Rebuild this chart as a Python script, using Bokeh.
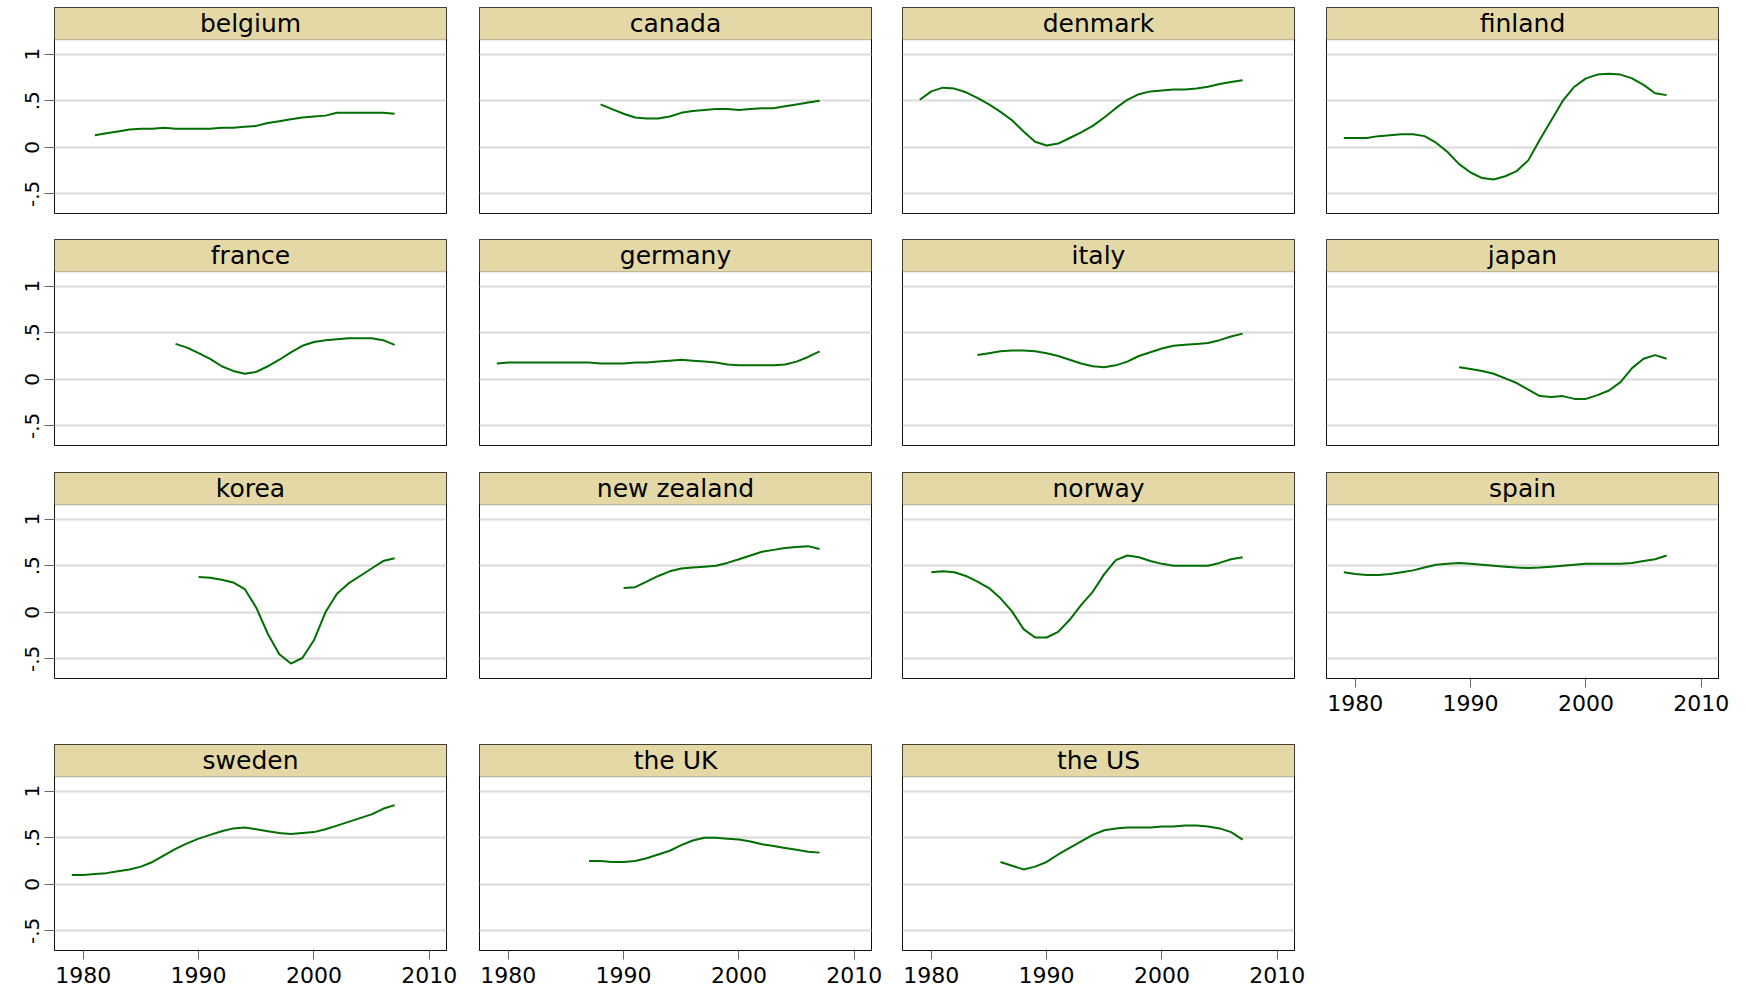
from bokeh.plotting import figure
from bokeh.layouts import column, row
from bokeh.models import (Range1d, FixedTicker, Grid, BoxAnnotation, Label,
                          LinearAxis, CustomJSTickFormatter)
from bokeh.embed import file_html
from bokeh.resources import INLINE

# ---------------- data ----------------
countries = ["belgium", "canada", "denmark", "finland",
             "france", "germany", "italy", "japan",
             "korea", "new zealand", "norway", "spain",
             "sweden", "the UK", "the US"]

start_years = {"belgium": 1981, "canada": 1988, "denmark": 1979, "finland": 1979,
               "france": 1988, "germany": 1979, "italy": 1984, "japan": 1989,
               "korea": 1990, "new zealand": 1990, "norway": 1980, "spain": 1979,
               "sweden": 1979, "the UK": 1987, "the US": 1986}

belgium = [.13, .15, .17, .19, .20, .20, .21, .20, .20, .20, .20, .21, .21, .22,
           .23, .26, .28, .30, .32, .33, .34, .37, .37, .37, .37, .37, .36]
canada = [.46, .41, .36, .32, .31, .31, .33, .37, .39, .40, .41, .41, .40, .41,
          .42, .42, .44, .46, .48, .50]
denmark = [.51, .60, .64, .63, .59, .53, .46, .38, .29, .17, .06, .02, .04, .10,
           .16, .23, .32, .42, .51, .57, .60, .61, .62, .62, .63, .65, .68, .70, .72]
finland = [.10, .10, .10, .12, .13, .14, .14, .12, .05, -.05, -.18, -.27, -.33,
           -.345, -.31, -.255, -.14, .08, .29, .50, .65, .74, .78, .79, .78, .74,
           .67, .58, .56]
france = [.38, .34, .28, .22, .14, .09, .06, .08, .14, .21, .29, .36, .40, .42,
          .43, .44, .44, .44, .42, .37]
germany = [.17, .18, .18, .18, .18, .18, .18, .18, .18, .17, .17, .17, .18, .18,
           .19, .20, .21, .20, .19, .18, .16, .15, .15, .15, .15, .16, .19, .24, .30]
italy = [.26, .28, .30, .31, .31, .30, .28, .25, .21, .17, .14, .13, .15, .19,
         .25, .29, .33, .36, .37, .38, .39, .42, .46, .49]
japan = [.13, .11, .09, .06, .01, -.04, -.11, -.18, -.19, -.18, -.21, -.21, -.17,
         -.12, -.03, .12, .22, .26, .22]
korea = [.38, .37, .35, .32, .25, .05, -.23, -.45, -.55, -.49, -.30, .00, .20,
         .31, .39, .47, .55, .58]
new_zealand = [.26, .27, .33, .39, .44, .47, .48, .49, .50, .53, .57, .61, .65,
               .67, .69, .70, .71, .68]
norway = [.43, .44, .43, .39, .33, .26, .15, .01, -.18, -.27, -.27, -.21, -.08,
          .08, .22, .41, .56, .61, .59, .55, .52, .50, .50, .50, .50, .53, .57, .59]
spain = [.43, .41, .40, .40, .41, .43, .45, .48, .51, .52, .53, .52, .51, .50,
         .49, .48, .475, .48, .49, .50, .51, .52, .52, .52, .52, .53, .55, .57, .61]
sweden = [.10, .10, .11, .12, .14, .16, .19, .24, .31, .38, .44, .49, .53, .57,
          .60, .61, .59, .57, .55, .54, .55, .56, .59, .63, .67, .71, .75, .81, .85]
the_uk = [.25, .25, .24, .24, .25, .28, .32, .36, .42, .47, .50, .50, .49, .48,
          .46, .43, .41, .39, .37, .35, .34]
the_us = [.24, .20, .16, .19, .24, .32, .39, .46, .53, .58, .60, .61, .61, .61,
          .62, .62, .63, .63, .62, .60, .56, .48]

series = {"belgium": belgium, "canada": canada, "denmark": denmark,
          "finland": finland, "france": france, "germany": germany,
          "italy": italy, "japan": japan, "korea": korea,
          "new zealand": new_zealand, "norway": norway, "spain": spain,
          "sweden": sweden, "the UK": the_uk, "the US": the_us}

x_ticks = [1980, 1990, 2000, 2010]
y_ticks = [-0.5, 0, 0.5, 1]

# ---------------- styling / layout ----------------
X0, X1 = 1977.5, 2011.5
Y0, Y1 = -0.71, 1.50
HEAD_BOTTOM = 1.154
TAN = "#E4D9A6"
GREEN = "#006E00"
GRID = "#DADADA"
FONT = "DejaVu Sans"

FRAME_W, FRAME_H = 392, 206
LEFTS = [54, 10, 10, 10]
RIGHTS = [23, 21, 22, 20]
ROW_TOP = [7, 0, 0, 0]
ROW_H = [239, 233, 272, 248]

y_fmt = CustomJSTickFormatter(code="""
    if (tick == 0) { return '0'; }
    return String(tick).replace('0.', '.');
""")


def make_panel(name, col, rowi, show_y, show_x):
    h = ROW_H[rowi]
    top = ROW_TOP[rowi]
    p = figure(width=LEFTS[col] + FRAME_W + RIGHTS[col], height=h,
               x_range=Range1d(X0, X1), y_range=Range1d(Y0, Y1),
               x_axis_location=None, y_axis_location=None,
               output_backend="svg", toolbar_location=None,
               min_border_left=LEFTS[col], min_border_right=RIGHTS[col],
               min_border_top=top, min_border_bottom=h - FRAME_H - top)
    p.center = []
    p.outline_line_color = "#111111"
    p.outline_line_width = 1
    p.background_fill_color = "white"
    p.border_fill_color = "white"

    p.add_layout(Grid(dimension=1, ticker=FixedTicker(ticks=y_ticks),
                      grid_line_color=GRID, grid_line_width=1.8))

    if show_y:
        ax = LinearAxis(ticker=FixedTicker(ticks=y_ticks), formatter=y_fmt)
        ax.major_label_orientation = "vertical"
        ax.major_label_text_font = FONT
        ax.major_label_text_font_size = "20px"
        ax.major_label_text_color = "black"
        ax.major_label_standoff = 5
        ax.major_tick_out = 10
        ax.major_tick_in = 0
        ax.minor_tick_out = 0
        ax.minor_tick_in = 0
        ax.major_tick_line_color = "#666666"
        ax.axis_line_color = None
        p.add_layout(ax, "left")

    if show_x:
        axx = LinearAxis(ticker=FixedTicker(ticks=x_ticks))
        axx.major_label_text_font = FONT
        axx.major_label_text_font_size = "22px"
        axx.major_label_text_color = "black"
        axx.major_label_standoff = 7
        axx.major_tick_out = 9
        axx.major_tick_in = 0
        axx.minor_tick_out = 0
        axx.minor_tick_in = 0
        axx.major_tick_line_color = "#666666"
        axx.axis_line_color = "#111111"
        p.add_layout(axx, "below")

    vals = series[name]
    yrs = list(range(start_years[name], start_years[name] + len(vals)))
    p.line(yrs, vals, line_color=GREEN, line_width=2)

    p.add_layout(BoxAnnotation(left=X0, right=X1, bottom=HEAD_BOTTOM, top=Y1,
                               fill_color=TAN, fill_alpha=1.0,
                               line_color="#222222", line_width=1))
    p.add_layout(Label(x=(X0 + X1) / 2, y=(HEAD_BOTTOM + Y1) / 2, text=name,
                       text_align="center", text_baseline="middle",
                       text_font=FONT, text_font_size="25px",
                       text_color="black"))
    return p


rows = []
for r in range(4):
    figs = []
    for c in range(4):
        i = r * 4 + c
        if i >= len(countries):
            break
        name = countries[i]
        show_x = (r == 3) or (name == "spain")
        figs.append(make_panel(name, c, r, show_y=(c == 0), show_x=show_x))
    rows.append(row(*figs, spacing=0))

layout = column(*rows, spacing=0)

open("out.html", "w").write(file_html(layout, INLINE))
